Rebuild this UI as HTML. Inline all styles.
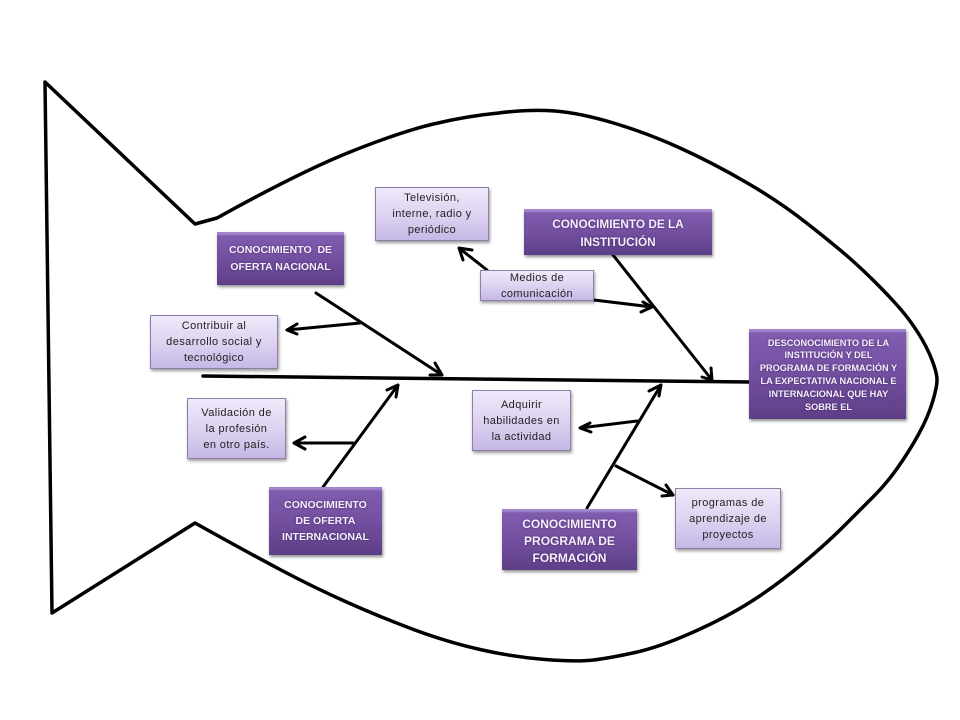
<!DOCTYPE html>
<html><head><meta charset="utf-8"><style>
html,body{margin:0;padding:0;background:#fff}
#c{position:relative;width:960px;height:720px;overflow:hidden;background:#fff;font-family:"Liberation Sans",sans-serif}
svg{position:absolute;left:0;top:0}
.b{position:absolute;box-sizing:border-box;display:flex;align-items:center;justify-content:center;text-align:center}
.d{background:linear-gradient(180deg,#a286cc 0,#a286cc 2px,#7f5cae 4px,#7551a2 45%,#5d3f87 100%);box-shadow:1px 2px 3px rgba(0,0,0,.45);color:#f4effa;font-weight:bold;text-shadow:0 0 2px rgba(50,20,80,.6)}
.l{background:linear-gradient(180deg,#efe9fa 0,#dcd1f0 55%,#c5b8e6 100%);border:1px solid #8f7fa8;box-shadow:1px 2px 3px rgba(0,0,0,.4);color:#222;font-size:11px;line-height:16px;letter-spacing:.4px}
</style></head><body><div id="c">
<svg width="960" height="720" viewBox="0 0 960 720" fill="none" stroke="#000" stroke-linecap="round" stroke-linejoin="round">
<path stroke-width="3.5" d="M45 82 L195 224 L217 218 Q300 172 350 152 Q400 132 433.5 124 Q467 116 498.5 113 Q530 109 555 111 Q580 113 613.5 123 Q647 133 680 148 Q713 163 746.5 182.5 Q780 202 808.5 224.5 Q837 247 850 258.5 Q863 270 876.5 283.5 Q890 297 900 308.5 Q910 320 918.5 333.5 Q927 347 932 360 Q937 373 937 380 Q937 387 932.5 402 Q928 417 919 433.5 Q910 450 898.5 466.5 Q887 483 873.5 496.5 Q860 510 843.5 526.5 Q827 543 802 564 Q777 585 752 601 Q727 617 693.5 632 Q660 647 635 652.5 Q610 658 593.5 660 Q577 662 545 659.5 Q513 657 480 649.5 Q447 642 413.5 629.5 Q380 617 346.5 602 Q313 587 280 569.5 Q247 552 195 523 L52 613 Z"/>
<path stroke-width="3.5" d="M203 376 L750 382"/>
<g stroke-width="3">
<path d="M316 293 L442 375 M435 363 L442 375 L430 375"/>
<path d="M360 323 L287 330 M297 324 L287 330 L297 334"/>
<path d="M613 255 L712 380 M711 368 L712 380 L702 377"/>
<path d="M594 300 L652 307 M643 302 L652 307 L641 312"/>
<path d="M487 270 L459 248 M472 250 L459 248 L463 260"/>
<path d="M323 487 L398 385 M387 390 L398 385 L396 397"/>
<path d="M353 443 L294 443 M305 437 L294 443 L305 449"/>
<path d="M587 508 L661 385 M649 391 L661 385 L659 396"/>
<path d="M637 421 L580 428 M590 423 L580 428 L591 432"/>
<path d="M616 466 L673 495 M666 485 L673 495 L662 496"/>
</g>
</svg>
<div class="b d" style="left:217px;top:232px;width:127px;height:53px;font-size:10.5px;line-height:17px">CONOCIMIENTO&nbsp; DE<br>OFERTA NACIONAL</div>
<div class="b d" style="left:524px;top:209px;width:188px;height:46px;font-size:11.8px;line-height:18px;padding-top:1px">CONOCIMIENTO DE LA<br>INSTITUCIÓN</div>
<div class="b d" style="left:749px;top:329px;width:157px;height:90px;font-size:9.2px;line-height:12.8px;padding:2px 0 0 2px">DESCONOCIMIENTO DE LA<br>INSTITUCIÓN Y DEL<br>PROGRAMA DE FORMACIÓN Y<br>LA EXPECTATIVA NACIONAL E<br>INTERNACIONAL QUE HAY<br>SOBRE EL</div>
<div class="b d" style="left:269px;top:487px;width:113px;height:68px;font-size:10.5px;line-height:16px">CONOCIMIENTO<br>DE OFERTA<br>INTERNACIONAL</div>
<div class="b d" style="left:502px;top:509px;width:135px;height:61px;font-size:12px;line-height:17px;padding-top:4px">CONOCIMIENTO<br>PROGRAMA DE<br>FORMACIÓN</div>
<div class="b l" style="left:375px;top:187px;width:114px;height:54px">Televisión,<br>interne, radio y<br>periódico</div>
<div class="b l" style="left:480px;top:270px;width:114px;height:31px">Medios de<br>comunicación</div>
<div class="b l" style="left:150px;top:315px;width:128px;height:54px">Contribuir al<br>desarrollo social y<br>tecnológico</div>
<div class="b l" style="left:187px;top:398px;width:99px;height:61px">Validación de<br>la profesión<br>en otro país.</div>
<div class="b l" style="left:472px;top:390px;width:99px;height:61px">Adquirir<br>habilidades en<br>la actividad</div>
<div class="b l" style="left:675px;top:488px;width:106px;height:61px">programas de<br>aprendizaje de<br>proyectos</div>
</div></body></html>
